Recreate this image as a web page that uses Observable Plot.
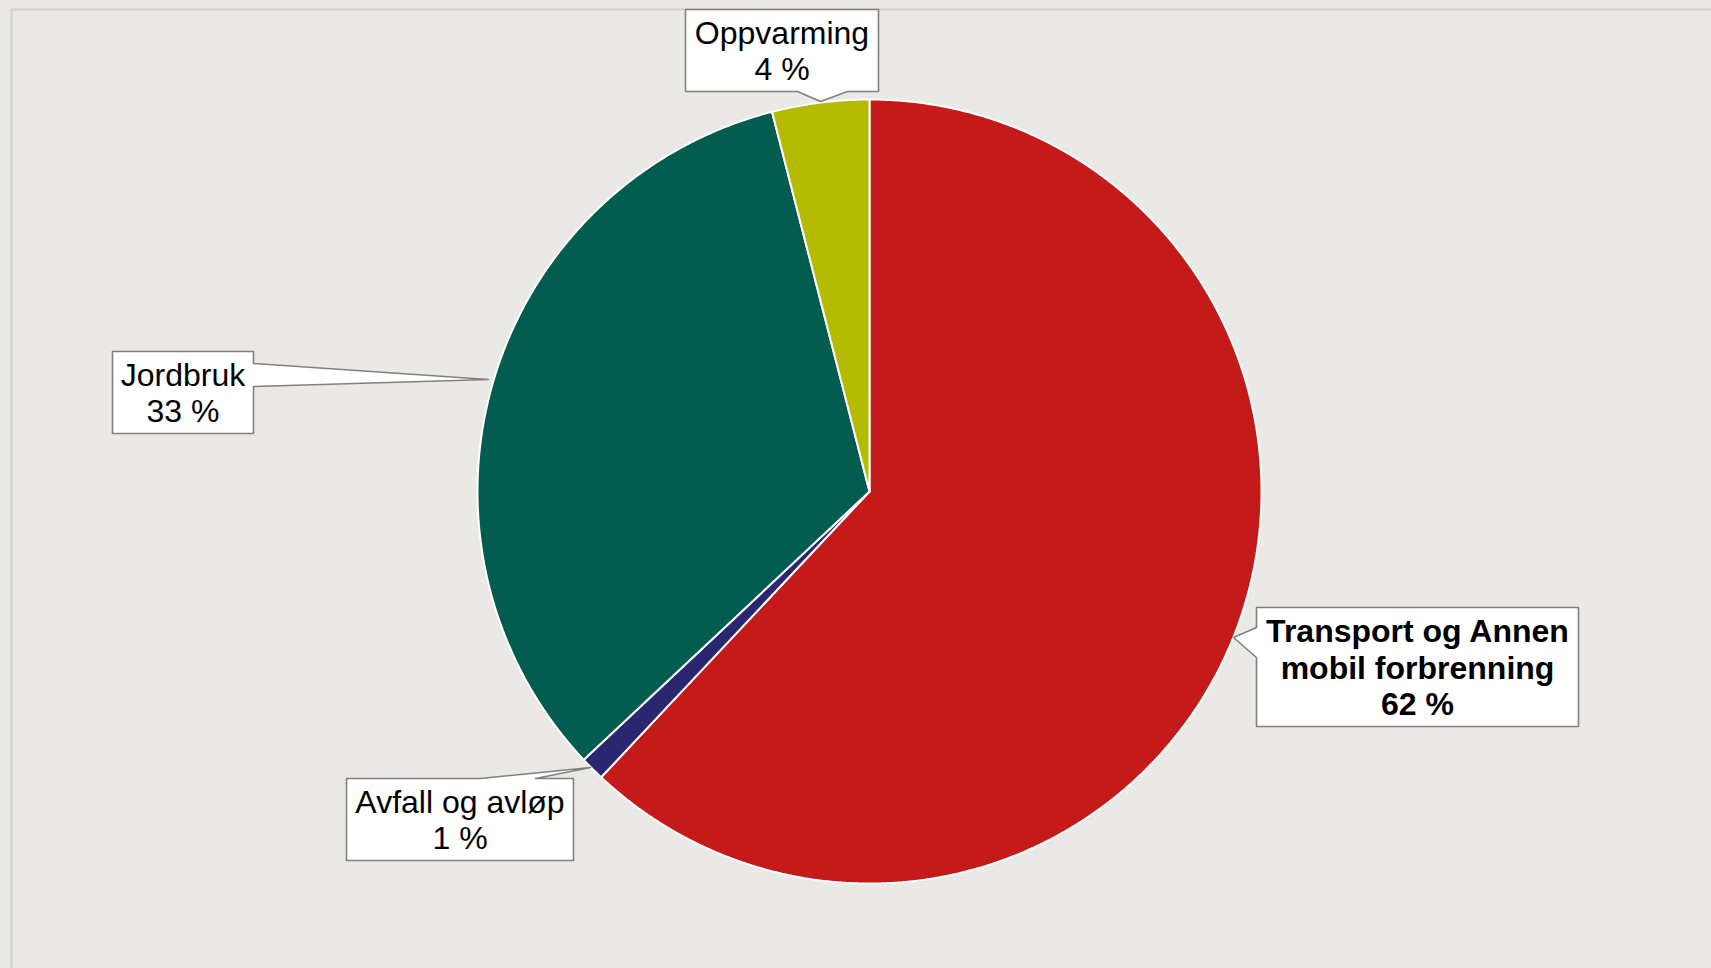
<!DOCTYPE html>
<html>
<head>
<meta charset="utf-8">
<script src="https://cdn.jsdelivr.net/npm/d3@7"></script>
<script src="https://cdn.jsdelivr.net/npm/@observablehq/plot@0.6"></script>
<style>
  html, body { margin: 0; padding: 0; background: #EBE9E5; }
  #chart { width: 1711px; height: 968px; }
  svg { display: block; }
</style>
</head>
<body>
<div id="chart"></div>
<script>
// ---- Data ----
const categories = ["Transport og Annen mobil forbrenning", "Avfall og avløp", "Jordbruk", "Oppvarming"];
const shares = [62, 1, 33, 4];            // percent
const labelLines = [
  ["Transport og Annen", "mobil forbrenning", "62 %"],
  ["Avfall og avløp", "1 %"],
  ["Jordbruk", "33 %"],
  ["Oppvarming", "4 %"]
];
const colors = ["#C41A19", "#2B2670", "#025C4F", "#B5BB00"];

// ---- Layout ----
const W = 1711, H = 968;
const cx = 869, cy = 491, R = 392;
// callout boxes [left, top, right, bottom], pointer base side and tip in pixels
const callouts = [
  {box: [1256, 607, 1578, 726], side: "left",   base: [627, 657], tip: [1233, 637], bold: true},
  {box: [346, 778, 573, 860],   side: "top",    base: [480, 535], tip: [590, 767]},
  {box: [112, 351, 253, 433],   side: "right",  base: [363, 386], tip: [488, 379]},
  {box: [685, 9, 878, 91],      side: "bottom", base: [797, 847], tip: [820, 101]}
];

// ---- Slices via d3.pie ----
const data = categories.map((c, i) => ({category: c, value: shares[i], color: colors[i], i}));
const arcs = d3.pie().value(d => d.value).sort(null)(data);
const slicePts = [];
for (const a of arcs) {
  const n = Math.max(4, Math.ceil((a.endAngle - a.startAngle) / 0.005));
  slicePts.push({x: cx, y: cy, k: a.data.category, color: a.data.color});
  for (let j = 0; j <= n; j++) {
    const t = a.startAngle + (a.endAngle - a.startAngle) * j / n;
    slicePts.push({x: cx + R * Math.sin(t), y: cy - R * Math.cos(t), k: a.data.category, color: a.data.color});
  }
  slicePts.push({x: cx, y: cy, k: a.data.category, color: a.data.color});
}

// ---- Callout shapes ----
const calloutPts = [];
const textRows = [];
callouts.forEach((c, i) => {
  const [l, t, r, b] = c.box;
  let pts;
  if (c.side === "left") pts = [[l, t], [r, t], [r, b], [l, b], [l, c.base[1]], c.tip, [l, c.base[0]], [l, t]];
  else if (c.side === "right") pts = [[l, t], [r, t], [r, c.base[0]], c.tip, [r, c.base[1]], [r, b], [l, b], [l, t]];
  else if (c.side === "top") pts = [[l, t], [c.base[0], t], c.tip, [c.base[1], t], [r, t], [r, b], [l, b], [l, t]];
  else pts = [[l, t], [r, t], [r, b], [c.base[1], b], c.tip, [c.base[0], b], [l, b], [l, t]];
  pts.forEach(p => calloutPts.push({x: p[0], y: p[1], k: categories[i]}));
  textRows.push({x: (l + r) / 2, y: (t + b) / 2, text: labelLines[i].join("\n"), bold: !!c.bold});
});

const chart = Plot.plot({
  width: W, height: H,
  margin: 0,
  style: {background: "#EBE9E5", fontFamily: "'Liberation Sans', Arial, sans-serif"},
  x: {domain: [0, W], range: [0, W], axis: null},
  y: {domain: [0, H], range: [0, H], axis: null},
  marks: [
    Plot.line([{x: 11, y: H}, {x: 11, y: 9}, {x: W, y: 9}], {x: "x", y: "y", stroke: "#D4D4D4", strokeWidth: 2.5}),
    Plot.line(slicePts, {x: "x", y: "y", z: "k", fill: "color", stroke: "white", strokeWidth: 2, strokeLinejoin: "miter", curve: "linear"}),
    Plot.line(calloutPts, {x: "x", y: "y", z: "k", fill: "white", stroke: "#808080", strokeWidth: 1.6, curve: "linear"}),
    Plot.text(textRows.filter(d => !d.bold), {x: "x", y: "y", text: "text", fontSize: 32, lineHeight: 1.13, fill: "black"}),
    Plot.text(textRows.filter(d => d.bold), {x: "x", y: "y", text: "text", fontSize: 32, lineHeight: 1.13, fontWeight: "bold", fill: "black"})
  ]
});
document.getElementById("chart").appendChild(chart);
</script>
</body>
</html>
